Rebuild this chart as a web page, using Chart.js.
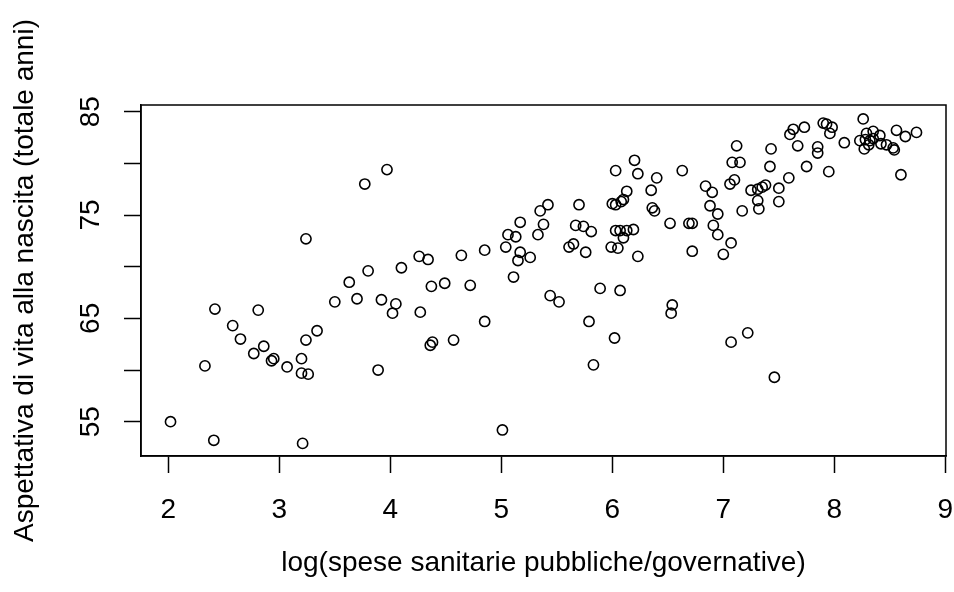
<!DOCTYPE html>
<html>
<head>
<meta charset="utf-8">
<script src="https://cdn.jsdelivr.net/npm/chart.js@4/dist/chart.umd.min.js"></script>
<style>
  html, body { margin: 0; padding: 0; background: #ffffff; }
  #wrap { width: 954px; height: 592px; }
</style>
</head>
<body>
<div id="wrap"><canvas id="c" width="954" height="592"></canvas></div>
<script>
// log public/government health expenditure
const spesaLog = [
  2.02, 2.41, 2.33, 2.42, 2.58, 2.65, 2.77, 2.81, 2.86, 2.93,
  2.95, 3.07, 3.20, 3.20, 3.26, 3.21, 3.24, 3.34, 3.24, 3.50,
  3.63, 3.70, 3.77, 3.80, 3.89, 3.92, 3.97, 4.02, 4.05, 4.10,
  4.26, 4.27, 4.34, 4.37, 4.36, 4.38, 4.49, 4.57, 4.64, 4.72,
  4.85, 4.85, 5.01, 5.04, 5.06, 5.11, 5.13, 5.15, 5.17, 5.17,
  5.26, 5.33, 5.35, 5.38, 5.42, 5.44, 5.52, 5.61, 5.65, 5.67,
  5.70, 5.74, 5.76, 5.79, 5.81, 5.83, 5.89, 5.99, 6.05, 6.00,
  6.03, 6.03, 6.02, 6.03, 6.07, 6.13, 6.19, 6.10, 6.07, 6.08,
  6.10, 6.13, 6.20, 6.23, 6.23, 6.35, 6.36, 6.38, 6.40, 6.52,
  6.53, 6.54, 6.63, 6.69, 6.72, 6.72, 6.84, 6.88, 6.90, 6.91,
  6.95, 6.95, 7.00, 7.06, 7.07, 7.07, 7.08, 7.10, 7.12, 7.15,
  7.17, 7.22, 7.25, 7.31, 7.35, 7.38, 7.31, 7.32, 7.42, 7.43,
  7.46, 7.50, 7.50, 7.59, 7.60, 7.63, 7.67, 7.73, 7.75, 7.85,
  7.85, 7.90, 7.93, 7.98, 7.96, 7.95, 8.09, 8.26, 8.23, 8.28,
  8.32, 8.35, 8.29, 8.35, 8.41, 8.42, 8.47, 8.53, 8.54, 8.27,
  8.31, 8.56, 8.64, 8.74, 8.60
];
// life expectancy at birth (total years)
const aspettativa = [
  55.0, 53.2, 60.4, 65.9, 64.3, 63.0, 61.6, 65.8, 62.3, 60.9,
  61.1, 60.3, 61.1, 59.7, 59.6, 52.9, 62.9, 63.8, 72.7, 66.6,
  68.5, 66.9, 78.0, 69.6, 60.0, 66.8, 79.4, 65.5, 66.4, 69.9,
  71.0, 65.6, 70.7, 68.1, 62.4, 62.7, 68.4, 62.9, 71.1, 68.2,
  71.6, 64.7, 54.2, 71.9, 73.1, 69.0, 72.9, 70.6, 71.4, 74.3,
  70.9, 73.1, 75.4, 74.1, 76.0, 67.2, 66.6, 71.9, 72.2, 74.0,
  76.0, 73.9, 71.4, 64.7, 73.4, 60.5, 67.9, 71.9, 71.8, 76.1,
  76.0, 79.3, 63.1, 73.5, 73.5, 73.5, 73.6, 72.8, 67.7, 76.3,
  76.5, 77.3, 80.3, 79.0, 71.0, 77.4, 75.7, 75.4, 78.6, 74.2,
  65.5, 66.3, 79.3, 74.2, 74.2, 71.5, 77.8, 75.9, 77.2, 74.0,
  75.1, 73.1, 71.2, 78.0, 72.3, 62.7, 80.1, 78.4, 81.7, 80.1,
  75.4, 63.6, 77.4, 77.5, 77.7, 77.9, 76.4, 75.6, 79.7, 81.4,
  59.3, 77.6, 76.3, 78.6, 82.8, 83.3, 81.7, 83.5, 79.7, 81.6,
  81.0, 83.9, 83.8, 83.5, 82.9, 79.2, 82.0, 84.3, 82.2, 82.3,
  82.2, 82.4, 82.9, 83.1, 82.7, 81.9, 81.8, 81.5, 81.3, 81.4,
  81.8, 83.2, 82.6, 83.0, 78.9
];
const xTickValues = [2, 3, 4, 5, 6, 7, 8, 9];
const yTickValues = [55, 60, 65, 70, 75, 80, 85];
const yTickLabels = ['55', '', '65', '', '75', '', '85'];
const xTitle = 'log(spese sanitarie pubbliche/governative)';
const yTitle = 'Aspettativa di vita alla nascita (totale anni)';

const points = spesaLog.map((x, i) => ({ x: x, y: aspettativa[i] }));

const FONT = "'Liberation Sans', Arial, Helvetica, sans-serif";

const bgPlugin = {
  id: 'bg',
  beforeDraw(chart) {
    const ctx = chart.ctx;
    ctx.save();
    ctx.fillStyle = '#ffffff';
    ctx.fillRect(0, 0, chart.width, chart.height);
    ctx.restore();
  }
};
const boxPlugin = {
  id: 'box',
  afterDraw(chart) {
    const a = chart.chartArea;
    const ctx = chart.ctx;
    ctx.save();
    ctx.strokeStyle = '#000000';
    ctx.lineWidth = 1.5;
    ctx.strokeRect(a.left, a.top, a.right - a.left, a.bottom - a.top);
    ctx.restore();
  }
};

new Chart(document.getElementById('c'), {
  type: 'scatter',
  data: {
    datasets: [{
      data: points,
      pointStyle: 'circle',
      pointRadius: 5.1,
      pointHoverRadius: 5.1,
      backgroundColor: 'rgba(0,0,0,0)',
      borderColor: '#000000',
      borderWidth: 1.6,
      clip: false
    }]
  },
  options: {
    responsive: false,
    devicePixelRatio: 1,
    animation: false,
    events: [],
    layout: { padding: { top: 105, right: 8, left: 0, bottom: 0 } },
    plugins: { legend: { display: false }, tooltip: { enabled: false } },
    scales: {
      x: {
        type: 'linear',
        min: 1.754,
        max: 9.006,
        afterBuildTicks(scale) { scale.ticks = xTickValues.map(v => ({ value: v })); },
        afterFit(scale) { scale.height = 136; scale.paddingLeft = 0; scale.paddingRight = 0; },
        grid: { drawOnChartArea: false, drawTicks: true, tickLength: 17, tickColor: '#000000', tickWidth: 1.5 },
        border: { display: true, color: '#000000', width: 1.5 },
        ticks: {
          autoSkip: false, maxRotation: 0, minRotation: 0, padding: 20,
          color: '#000000', font: { family: FONT, size: 28 },
          callback: v => String(v)
        },
        title: {
          display: true, text: xTitle, color: '#000000',
          font: { family: FONT, size: 28, lineHeight: 1.2 },
          padding: { top: 0, bottom: 12 }
        }
      },
      y: {
        type: 'linear',
        min: 51.68,
        max: 85.65,
        afterBuildTicks(scale) { scale.ticks = yTickValues.map(v => ({ value: v })); },
        afterFit(scale) { scale.width = 141; scale.paddingTop = 0; scale.paddingBottom = 0; },
        grid: { drawOnChartArea: false, drawTicks: true, tickLength: 17, tickColor: '#000000', tickWidth: 1.5 },
        border: { display: true, color: '#000000', width: 1.5 },
        ticks: {
          autoSkip: false, minRotation: 90, maxRotation: 90, padding: 17,
          crossAlign: 'center',
          color: '#000000', font: { family: FONT, size: 28 },
          callback: v => yTickLabels[yTickValues.indexOf(v)]
        },
        title: {
          display: true, text: yTitle, color: '#000000',
          font: { family: FONT, size: 28, lineHeight: 1.2 },
          padding: { top: 8, bottom: 0 }
        }
      }
    }
  },
  plugins: [bgPlugin, boxPlugin]
});
</script>
</body>
</html>
